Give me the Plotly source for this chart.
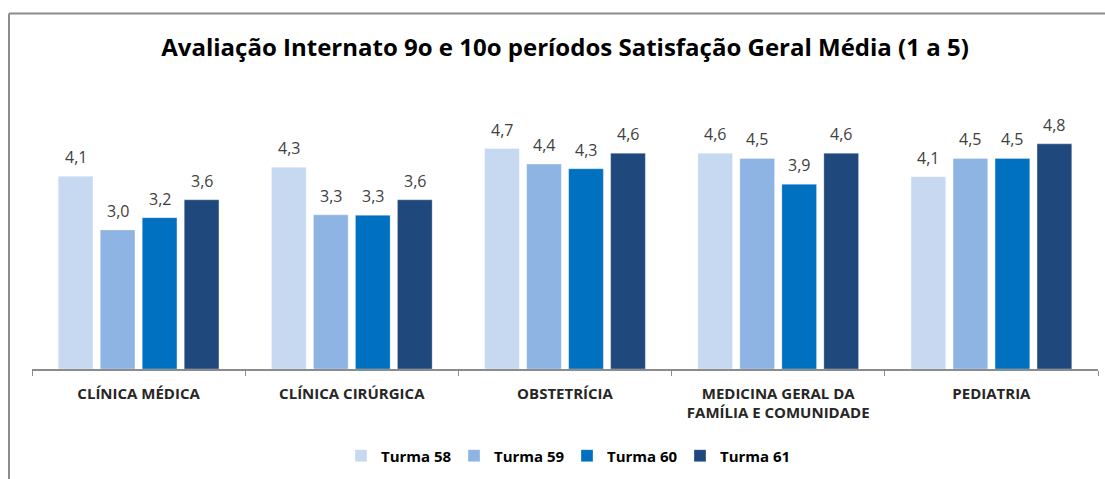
import plotly.graph_objects as go

categories = ["CLÍNICA MÉDICA", "CLÍNICA CIRÚRGICA", "OBSTETRÍCIA",
              "MEDICINA GERAL DA<br>FAMÍLIA E COMUNIDADE", "PEDIATRIA"]
series_names = ["Turma 58", "Turma 59", "Turma 60", "Turma 61"]
turma58 = [4.10, 4.29, 4.69, 4.59, 4.09]
turma59 = [2.96, 3.28, 4.36, 4.48, 4.48]
turma60 = [3.22, 3.27, 4.26, 3.93, 4.48]
turma61 = [3.60, 3.60, 4.59, 4.59, 4.79]
series_values = [turma58, turma59, turma60, turma61]
colors = ["#C6D9F1", "#8EB4E3", "#0070C0", "#1F497D"]
title_text = "Avaliação Internato 9o e 10o períodos Satisfação Geral Média (1 a 5)"

W, H = 1105, 479
ML, MR, MT, MB = 32, 7, 134, 107
PW = W - ML - MR
PH = H - MT - MB
FONT = "Open Sans"

def px_x(p):
    return (p - ML) / PW

def px_y(p):
    return (H - MB - p) / PH

fig = go.Figure()
for name, vals, col in zip(series_names, series_values, colors):
    fig.add_trace(go.Bar(
        x=categories, y=vals, name=name,
        marker=dict(color=col, line=dict(color="rgba(255,255,255,0.6)", width=0.5)),
        hoverinfo="skip",
    ))

bargap = 0.212
bargroupgap = 0.174
cat_px = PW / len(categories)
slot_px = cat_px * (1 - bargap) / len(series_names)
annotations = []
for j, vals in enumerate(series_values):
    for c, v in zip(categories, vals):
        annotations.append(dict(
            x=c, y=v, xref="x", yref="y",
            text=f"{v:.1f}".replace(".", ","),
            showarrow=False, yanchor="bottom",
            xshift=(j - (len(series_names) - 1) / 2) * slot_px,
            yshift=6,
            font=dict(family=FONT, size=16, color="#404040"),
        ))

border = "#8C8C8C"
shapes = [
    dict(type="line", xref="paper", yref="paper", x0=px_x(9), x1=px_x(W + 5),
         y0=px_y(12), y1=px_y(12), line=dict(color=border, width=2)),
    dict(type="line", xref="paper", yref="paper", x0=px_x(9), x1=px_x(9),
         y0=px_y(12), y1=px_y(H + 5), line=dict(color=border, width=2)),
]

fig.update_layout(
    width=W, height=H,
    margin=dict(l=ML, r=MR, t=MT, b=MB),
    paper_bgcolor="white", plot_bgcolor="white",
    barmode="group", bargap=bargap, bargroupgap=bargroupgap,
    title=dict(text=f"<b>{title_text}</b>", x=565 / W, xanchor="center",
               y=1 - 48 / H, yanchor="middle",
               font=dict(family=FONT, size=24, color="#000000")),
    xaxis=dict(showline=True, linecolor=border, linewidth=1.5,
               ticks="outside", tickson="boundaries", ticklen=5, tickcolor=border,
               ticklabelstandoff=10,
               tickfont=dict(family=FONT, size=15, color="#262626", weight="bold"),
               showgrid=False, fixedrange=True),
    yaxis=dict(range=[0, 5.0], visible=False, showgrid=False, fixedrange=True),
    legend=dict(orientation="h", x=px_x(567), xanchor="center",
                y=px_y(460), yanchor="middle",
                font=dict(family=FONT, size=15, color="#000000", weight="bold"),
                itemwidth=30, entrywidth=68, entrywidthmode="pixels",
                traceorder="normal"),
    annotations=annotations,
    shapes=shapes,
    showlegend=True,
)

fig.write_html("out.html", config={"displayModeBar": False},
               post_script="document.body.style.margin='0';")
